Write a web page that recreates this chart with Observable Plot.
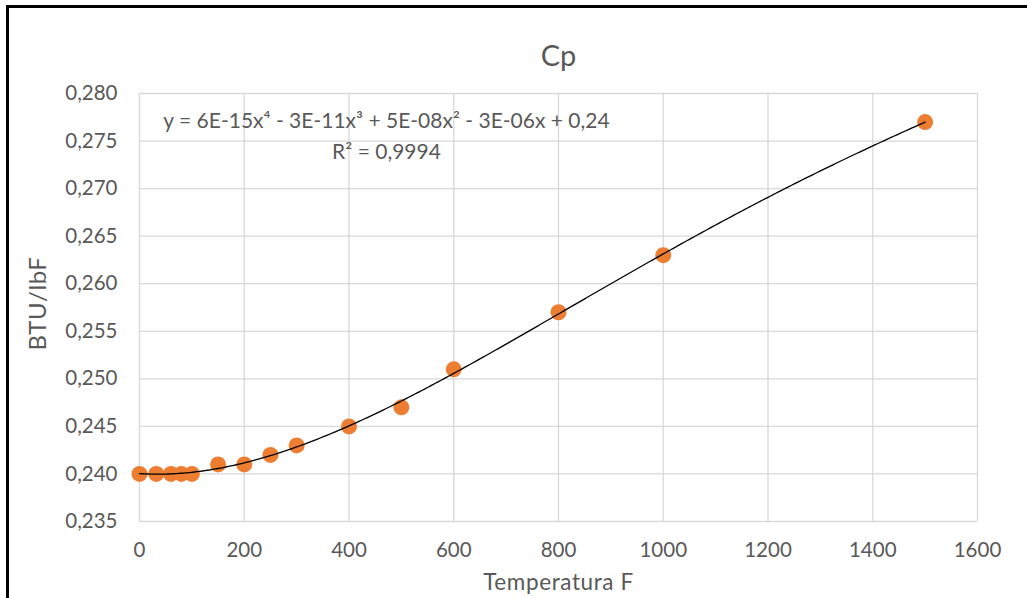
<!DOCTYPE html>
<html>
<head>
<meta charset="utf-8">
<script src="https://cdn.jsdelivr.net/npm/d3@7"></script>
<script src="https://cdn.jsdelivr.net/npm/@observablehq/plot@0.6"></script>
<style>
  html, body { margin: 0; padding: 0; background: #fff; }
  #wrap { position: relative; width: 1027px; height: 598px; overflow: hidden; }
  #frame { position: absolute; left: 6px; top: 5px; width: 1100px; height: 700px; border-left: 3px solid #000; border-top: 3px solid #000; box-sizing: border-box; }
  #chart { position: absolute; left: 0; top: 0; }
  .axis-title { letter-spacing: 0.6px; }
</style>
</head>
<body>
<div id="wrap">
  <div id="frame"></div>
  <div id="chart"></div>
</div>
<script>
const temperatures = [0, 32, 60, 80, 100, 150, 200, 250, 300, 400, 500, 600, 800, 1000, 1500];
const cpValues = [0.240, 0.240, 0.240, 0.240, 0.240, 0.241, 0.241, 0.242, 0.243, 0.245, 0.247, 0.251, 0.257, 0.263, 0.277];
const xTicks = [0, 200, 400, 600, 800, 1000, 1200, 1400, 1600];
const yTicks = [0.235, 0.240, 0.245, 0.250, 0.255, 0.260, 0.265, 0.270, 0.275, 0.280];
const titleText = "Cp";
const equationText = "y = 6E-15x⁴ - 3E-11x³ + 5E-08x² - 3E-06x + 0,24";
const r2Text = "R² = 0,9994";
const xLabel = "Temperatura F";
const yLabel = "BTU/lbF";

const points = temperatures.map((t, i) => ({t, cp: cpValues[i]}));

// Least-squares polynomial (degree 4) trendline fitted to the data, like Excel's
function polyFit(xs, ys, deg) {
  const s = 1000;
  const n = deg + 1;
  const A = Array.from({length: n}, () => new Array(n + 1).fill(0));
  xs.forEach((x0, k) => {
    const x = x0 / s;
    for (let i = 0; i < n; i++) {
      for (let j = 0; j < n; j++) A[i][j] += Math.pow(x, i + j);
      A[i][n] += ys[k] * Math.pow(x, i);
    }
  });
  for (let i = 0; i < n; i++) {
    let p = i;
    for (let r = i + 1; r < n; r++) if (Math.abs(A[r][i]) > Math.abs(A[p][i])) p = r;
    [A[i], A[p]] = [A[p], A[i]];
    for (let r = 0; r < n; r++) {
      if (r === i) continue;
      const f = A[r][i] / A[i][i];
      for (let c = i; c <= n; c++) A[r][c] -= f * A[i][c];
    }
  }
  const coef = A.map((row, i) => row[n] / row[i]);
  return x => coef.reduce((acc, c, i) => acc + c * Math.pow(x / s, i), 0);
}
const fit = polyFit(temperatures, cpValues, 4);
const tMax = d3.max(temperatures);
const trend = d3.range(0, tMax + 1, 5).map(t => ({t, cp: fit(t)}));

const comma = d => d3.format(".3f")(d).replace(".", ",");
const plain = d => String(d);
const grey = "#595959";

const plot = Plot.plot({
  width: 1027,
  height: 598,
  marginLeft: 139,
  marginRight: 50,
  marginTop: 93,
  marginBottom: 77,
  style: {fontFamily: "Lato, 'Open Sans', sans-serif", fontSize: "20px", color: grey, background: "transparent"},
  x: {domain: [0, 1600], ticks: xTicks},
  y: {domain: [0.235, 0.280], ticks: yTicks},
  marks: [
    Plot.gridX(xTicks, {stroke: "#d9d9d9", strokeOpacity: 1, strokeWidth: 1.3}),
    Plot.gridY(yTicks, {stroke: "#d9d9d9", strokeOpacity: 1, strokeWidth: 1.3}),
    Plot.axisX(xTicks, {tickSize: 0, tickPadding: 21, fill: grey, fontSize: 20.5, tickFormat: plain, label: null}),
    Plot.axisY(yTicks, {tickSize: 0, tickPadding: 22, fill: grey, fontSize: 20.5, tickFormat: comma, label: null}),
    Plot.dot(points, {x: "t", y: "cp", r: 8, fill: "#ED7D31", stroke: "none"}),
    Plot.line(trend, {x: "t", y: "cp", stroke: "#000", strokeWidth: 1.3}),
    Plot.text([xLabel], {frameAnchor: "bottom", lineAnchor: "middle", dy: 61, fontSize: 22.5, fill: grey, className: "axis-title"}),
    Plot.text([yLabel], {frameAnchor: "left", lineAnchor: "middle", textAnchor: "middle", rotate: -90, dx: -101, dy: -4, fontSize: 24, fill: grey, className: "axis-title"}),
    Plot.text([titleText], {frameAnchor: "top", lineAnchor: "middle", dy: -37, fontSize: 29, fill: grey}),
    Plot.text([equationText], {frameAnchor: "top", lineAnchor: "middle", dx: -172, dy: 28, fontSize: 21, fill: grey}),
    Plot.text([r2Text], {frameAnchor: "top", lineAnchor: "middle", dx: -172, dy: 59, fontSize: 21, fill: grey})
  ]
});
document.getElementById("chart").appendChild(plot);
</script>
</body>
</html>
